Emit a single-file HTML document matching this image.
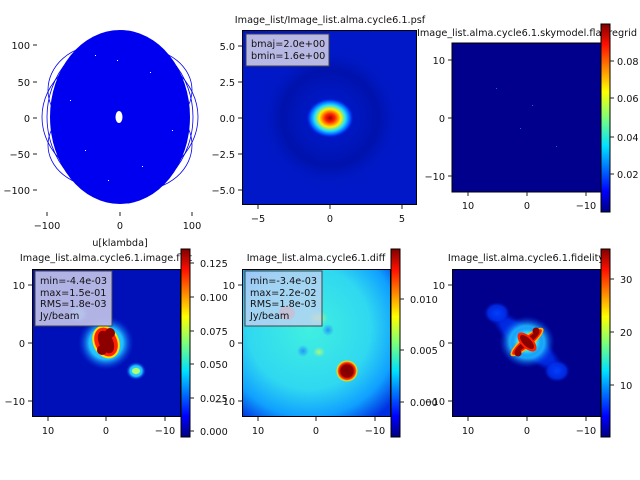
<!DOCTYPE html>
<html><head><meta charset="utf-8"><style>
html,body{margin:0;padding:0;background:#fff;}
svg{display:block;font-family:"DejaVu Sans","Liberation Sans",sans-serif;}
text{font-size:9.7px;fill:#111;}
</style></head><body>
<svg width="640" height="480" viewBox="0 0 640 480" xmlns="http://www.w3.org/2000/svg">
<defs>
<linearGradient id="jet" x1="0" y1="1" x2="0" y2="0">
<stop offset="0" stop-color="#000080"/><stop offset="0.11" stop-color="#0000ff"/>
<stop offset="0.35" stop-color="#00e0ff"/><stop offset="0.5" stop-color="#7dff7a"/>
<stop offset="0.64" stop-color="#ffff00"/><stop offset="0.89" stop-color="#ff1000"/>
<stop offset="1" stop-color="#800000"/></linearGradient>
<radialGradient id="psf"><stop offset="0" stop-color="#9a0000"/><stop offset="0.2" stop-color="#ff2000"/>
<stop offset="0.45" stop-color="#ffee00"/><stop offset="0.65" stop-color="#20e0ff"/><stop offset="0.85" stop-color="#0050ff"/><stop offset="1" stop-color="#0010d0" stop-opacity="0"/></radialGradient>
<radialGradient id="halo"><stop offset="0" stop-color="#40e8ff"/><stop offset="0.6" stop-color="#20c0ff"/><stop offset="1" stop-color="#0030e0" stop-opacity="0"/></radialGradient>
<radialGradient id="fhalo"><stop offset="0" stop-color="#ffe000"/><stop offset="0.35" stop-color="#80ff80"/><stop offset="0.6" stop-color="#20d0ff"/><stop offset="1" stop-color="#0030e0" stop-opacity="0"/></radialGradient>
<radialGradient id="blue"><stop offset="0" stop-color="#0040ff"/><stop offset="0.7" stop-color="#0030f0" stop-opacity="0.8"/><stop offset="1" stop-color="#0010c0" stop-opacity="0"/></radialGradient>
<radialGradient id="diffbg" cx="0.45" cy="0.4" r="0.75"><stop offset="0" stop-color="#40f0e0"/><stop offset="0.55" stop-color="#30d8f0"/><stop offset="0.8" stop-color="#10a0ff"/><stop offset="1" stop-color="#0030e0"/></radialGradient>
<radialGradient id="redspot"><stop offset="0" stop-color="#800000"/><stop offset="0.55" stop-color="#900000"/><stop offset="0.75" stop-color="#ff3000"/><stop offset="0.9" stop-color="#ffe000"/><stop offset="1" stop-color="#80ff80" stop-opacity="0"/></radialGradient>
<radialGradient id="soft"><stop offset="0" stop-color="#d8ff50" stop-opacity="0.7"/><stop offset="1" stop-color="#d8ff50" stop-opacity="0"/></radialGradient>
<radialGradient id="softb"><stop offset="0" stop-color="#2080ff" stop-opacity="0.8"/><stop offset="1" stop-color="#2080ff" stop-opacity="0"/></radialGradient>
<radialGradient id="psfring" cx="0.5" cy="0.5" r="0.5"><stop offset="0" stop-color="#0018c8" stop-opacity="0"/><stop offset="0.6" stop-color="#000c90" stop-opacity="0.5"/><stop offset="0.8" stop-color="#0018c0" stop-opacity="0.3"/><stop offset="1" stop-color="#0018c0" stop-opacity="0"/></radialGradient>
<clipPath id="c4"><rect x="32" y="269" width="149" height="148"/></clipPath>
<clipPath id="c5"><rect x="242" y="269" width="149" height="148"/></clipPath>
<clipPath id="c6"><rect x="452" y="269" width="149" height="148"/></clipPath>
<clipPath id="c2"><rect x="242" y="30" width="175" height="175"/></clipPath>
</defs>

<!-- Panel 1 uv -->
<g>
<ellipse cx="120" cy="117" rx="70" ry="87" fill="#0000f0"/>
<g fill="none" stroke="#0000f0" stroke-width="0.8">
<ellipse cx="120" cy="117" rx="78" ry="66"/><ellipse cx="120" cy="117" rx="73" ry="80"/>
<ellipse cx="100" cy="90" rx="52" ry="45"/><ellipse cx="140" cy="145" rx="52" ry="45"/>
<ellipse cx="140" cy="90" rx="52" ry="42"/><ellipse cx="100" cy="145" rx="52" ry="42"/>
</g>
<g fill="#fff"><rect x="95" y="55" width="1" height="1"/><rect x="150" y="72" width="1" height="1"/><rect x="85" y="150" width="1" height="1"/><rect x="142" y="166" width="1" height="1"/><rect x="70" y="100" width="1" height="1"/><rect x="172" y="130" width="1" height="1"/><rect x="117" y="60" width="1" height="1"/><rect x="108" y="180" width="1" height="1"/></g>
<ellipse cx="119" cy="117" rx="3.5" ry="6" fill="#fff"/>
<g stroke="#222"><line x1="33" y1="45" x2="37" y2="45"/><line x1="33" y1="82" x2="37" y2="82"/><line x1="33" y1="118" x2="37" y2="118"/><line x1="33" y1="154" x2="37" y2="154"/><line x1="33" y1="190" x2="37" y2="190"/>
<line x1="47" y1="212" x2="47" y2="216"/><line x1="120" y1="212" x2="120" y2="216"/><line x1="192" y1="212" x2="192" y2="216"/></g>
<g text-anchor="end"><text x="30" y="49">100</text><text x="30" y="86">50</text><text x="30" y="122">0</text><text x="30" y="158">−50</text><text x="30" y="194">−100</text></g>
<g text-anchor="middle"><text x="47" y="229">−100</text><text x="120" y="229">0</text><text x="192" y="229">100</text><text x="120" y="246">u[klambda]</text></g>
</g>

<!-- Panel 2 psf -->
<g>
<rect x="242" y="30" width="175" height="175" fill="#0018c8"/>
<g clip-path="url(#c2)"><circle cx="330" cy="118" r="80" fill="url(#psfring)"/>
<ellipse cx="330" cy="118" rx="24" ry="20" fill="url(#psf)"/></g>
<rect x="242.5" y="30.5" width="174" height="174" fill="none" stroke="#000"/>
<rect x="246" y="34" width="83" height="32" fill="#b8b8e4" stroke="#444"/>
<text x="251" y="47">bmaj=2.0e+00</text><text x="251" y="59">bmin=1.6e+00</text>
<g stroke="#222"><line x1="238" y1="46" x2="242" y2="46"/><line x1="238" y1="82" x2="242" y2="82"/><line x1="238" y1="118" x2="242" y2="118"/><line x1="238" y1="154" x2="242" y2="154"/><line x1="238" y1="190" x2="242" y2="190"/>
<line x1="258" y1="205" x2="258" y2="209"/><line x1="330" y1="205" x2="330" y2="209"/><line x1="402" y1="205" x2="402" y2="209"/></g>
<g text-anchor="end"><text x="235" y="50">5.0</text><text x="235" y="86">2.5</text><text x="235" y="122">0.0</text><text x="235" y="158">−2.5</text><text x="235" y="194">−5.0</text></g>
<g text-anchor="middle"><text x="258" y="222">−5</text><text x="330" y="222">0</text><text x="402" y="222">5</text>
<text x="330" y="23">Image_list/Image_list.alma.cycle6.1.psf</text></g>
</g>

<!-- Panel 3 skymodel -->
<g>
<text x="527" y="36" text-anchor="middle">Image_list.alma.cycle6.1.skymodel.flat.regrid</text>
<rect x="452" y="43" width="149" height="149" fill="#00008c" stroke="#000"/>
<rect x="496" y="88" width="1" height="1" fill="#2060ff"/><rect x="532" y="105" width="1" height="1" fill="#2060ff"/>
<rect x="520" y="128" width="1" height="1" fill="#2060ff"/><rect x="556" y="146" width="1" height="1" fill="#2060ff"/>
<rect x="601" y="24" width="9" height="188" fill="url(#jet)" stroke="#000"/>
<g stroke="#222"><line x1="448" y1="60" x2="452" y2="60"/><line x1="448" y1="118" x2="452" y2="118"/><line x1="448" y1="176" x2="452" y2="176"/>
<line x1="468" y1="192" x2="468" y2="196"/><line x1="527" y1="192" x2="527" y2="196"/><line x1="586" y1="192" x2="586" y2="196"/>
<line x1="610" y1="61" x2="614" y2="61"/><line x1="610" y1="98" x2="614" y2="98"/><line x1="610" y1="137" x2="614" y2="137"/><line x1="610" y1="174" x2="614" y2="174"/></g>
<g text-anchor="end"><text x="445" y="64">10</text><text x="445" y="122">0</text><text x="445" y="180">−10</text></g>
<g text-anchor="middle"><text x="468" y="209">10</text><text x="527" y="209">0</text><text x="586" y="209">−10</text></g>
<text x="617" y="65">0.08</text><text x="617" y="102">0.06</text><text x="617" y="141">0.04</text><text x="617" y="178">0.02</text>
</g>

<!-- Panel 4 image -->
<g>
<text x="106" y="261" text-anchor="middle">Image_list.alma.cycle6.1.image.flat</text>
<rect x="32" y="269" width="149" height="148" fill="#0010b8"/>
<g clip-path="url(#c4)">
<ellipse cx="106" cy="343" rx="28" ry="27" fill="url(#halo)"/>
<ellipse cx="78" cy="314" rx="10" ry="9" fill="url(#halo)"/>
<ellipse cx="136" cy="371" rx="10" ry="9" fill="url(#halo)"/>
<ellipse cx="136" cy="371" rx="4" ry="3" fill="#b0ff70"/>
<g transform="rotate(-25 106 342)"><ellipse cx="106" cy="342" rx="13" ry="17" fill="#ffe000"/><ellipse cx="106" cy="342" rx="11" ry="15" fill="#ff2000"/><ellipse cx="106" cy="342" rx="7" ry="12" fill="#8c0000"/></g>
<circle cx="110" cy="333" r="5" fill="#8c0000"/><circle cx="102" cy="350" r="5" fill="#8c0000"/>
</g>
<rect x="32.5" y="269.5" width="148" height="147" fill="none" stroke="#000"/>
<rect x="35" y="271" width="77" height="55" fill="#c0c0e8" fill-opacity="0.93" stroke="#444"/>
<text x="40" y="284">min=-4.4e-03</text><text x="40" y="296">max=1.5e-01</text><text x="40" y="307">RMS=1.8e-03</text><text x="40" y="319">Jy/beam</text>
<rect x="181" y="249" width="9" height="188" fill="url(#jet)" stroke="#000"/>
<g stroke="#222"><line x1="28" y1="285" x2="32" y2="285"/><line x1="28" y1="343" x2="32" y2="343"/><line x1="28" y1="401" x2="32" y2="401"/>
<line x1="48" y1="417" x2="48" y2="421"/><line x1="106" y1="417" x2="106" y2="421"/><line x1="165" y1="417" x2="165" y2="421"/>
<line x1="190" y1="263" x2="194" y2="263"/><line x1="190" y1="297" x2="194" y2="297"/><line x1="190" y1="331" x2="194" y2="331"/><line x1="190" y1="364" x2="194" y2="364"/><line x1="190" y1="398" x2="194" y2="398"/><line x1="190" y1="431" x2="194" y2="431"/></g>
<g text-anchor="end"><text x="25" y="289">10</text><text x="25" y="347">0</text><text x="25" y="405">−10</text></g>
<g text-anchor="middle"><text x="48" y="434">10</text><text x="106" y="434">0</text><text x="165" y="434">−10</text></g>
<text x="200" y="267">0.125</text><text x="200" y="301">0.100</text><text x="200" y="335">0.075</text><text x="200" y="368">0.050</text><text x="200" y="402">0.025</text><text x="200" y="435">0.000</text>
</g>

<!-- Panel 5 diff -->
<g>
<text x="316" y="261" text-anchor="middle">Image_list.alma.cycle6.1.diff</text>
<rect x="242" y="269" width="149" height="148" fill="url(#diffbg)"/>
<g clip-path="url(#c5)">
<ellipse cx="318" cy="318" rx="10" ry="7" fill="url(#soft)"/>
<ellipse cx="328" cy="330" rx="6" ry="6" fill="url(#softb)"/>
<ellipse cx="303" cy="351" rx="6" ry="6" fill="url(#softb)"/>
<ellipse cx="319" cy="352" rx="6" ry="5" fill="url(#soft)"/>
<ellipse cx="287" cy="313" rx="8" ry="7" fill="#ff6040" opacity="0.6"/>
<circle cx="347" cy="371" r="11" fill="url(#redspot)"/>
</g>
<rect x="242.5" y="269.5" width="148" height="147" fill="none" stroke="#000"/>
<rect x="245" y="271" width="77" height="55" fill="#c8d0f4" fill-opacity="0.75" stroke="#444"/>
<text x="250" y="284">min=-3.4e-03</text><text x="250" y="296">max=2.2e-02</text><text x="250" y="307">RMS=1.8e-03</text><text x="250" y="319">Jy/beam</text>
<rect x="391" y="249" width="9" height="188" fill="url(#jet)" stroke="#000"/>
<g stroke="#222"><line x1="238" y1="285" x2="242" y2="285"/><line x1="238" y1="343" x2="242" y2="343"/><line x1="238" y1="401" x2="242" y2="401"/>
<line x1="258" y1="417" x2="258" y2="421"/><line x1="316" y1="417" x2="316" y2="421"/><line x1="375" y1="417" x2="375" y2="421"/>
<line x1="400" y1="299" x2="404" y2="299"/><line x1="400" y1="350" x2="404" y2="350"/><line x1="400" y1="402" x2="404" y2="402"/></g>
<g text-anchor="end"><text x="235" y="289">10</text><text x="235" y="347">0</text><text x="235" y="405">−10</text></g>
<g text-anchor="middle"><text x="258" y="434">10</text><text x="316" y="434">0</text><text x="375" y="434">−10</text></g>
<text x="410" y="303">0.010</text><text x="410" y="354">0.005</text><text x="410" y="406">0.000</text>
</g>

<!-- Panel 6 fidelity -->
<g>
<text x="526" y="261" text-anchor="middle">Image_list.alma.cycle6.1.fidelity</text>
<rect x="452" y="269" width="149" height="148" fill="#00008c"/>
<g clip-path="url(#c6)">
<g transform="rotate(40 527 342)"><ellipse cx="527" cy="342" rx="48" ry="14" fill="url(#blue)"/></g>
<ellipse cx="497" cy="313" rx="13" ry="11" fill="url(#blue)"/>
<ellipse cx="557" cy="371" rx="13" ry="11" fill="url(#blue)"/>
<ellipse cx="527" cy="342" rx="28" ry="26" fill="url(#halo)"/>
<ellipse cx="527" cy="342" rx="18" ry="17" fill="url(#fhalo)"/>
<g transform="rotate(-40 527 342)"><ellipse cx="527" cy="342" rx="21" ry="6" fill="#ffb000"/><ellipse cx="527" cy="342" rx="19" ry="4.5" fill="#ff2000"/><ellipse cx="527" cy="342" rx="16" ry="3" fill="#8c0000"/></g>
<g transform="rotate(45 527 342)"><ellipse cx="527" cy="342" rx="12" ry="6" fill="#ff2000"/><ellipse cx="527" cy="342" rx="9" ry="4" fill="#8c0000"/></g>
<circle cx="536" cy="331" r="3.5" fill="#8c0000"/><circle cx="518" cy="353" r="3.5" fill="#8c0000"/>
</g>
<rect x="452.5" y="269.5" width="148" height="147" fill="none" stroke="#000"/>
<rect x="601" y="249" width="9" height="188" fill="url(#jet)" stroke="#000"/>
<g stroke="#222"><line x1="448" y1="285" x2="452" y2="285"/><line x1="448" y1="343" x2="452" y2="343"/><line x1="448" y1="401" x2="452" y2="401"/>
<line x1="468" y1="417" x2="468" y2="421"/><line x1="527" y1="417" x2="527" y2="421"/><line x1="586" y1="417" x2="586" y2="421"/>
<line x1="610" y1="279" x2="614" y2="279"/><line x1="610" y1="332" x2="614" y2="332"/><line x1="610" y1="385" x2="614" y2="385"/></g>
<g text-anchor="end"><text x="445" y="289">10</text><text x="445" y="347">0</text><text x="445" y="405">−10</text></g>
<g text-anchor="middle"><text x="468" y="434">10</text><text x="527" y="434">0</text><text x="586" y="434">−10</text></g>
<text x="620" y="283">30</text><text x="620" y="336">20</text><text x="620" y="389">10</text>
</g>
</svg>
</body></html>
